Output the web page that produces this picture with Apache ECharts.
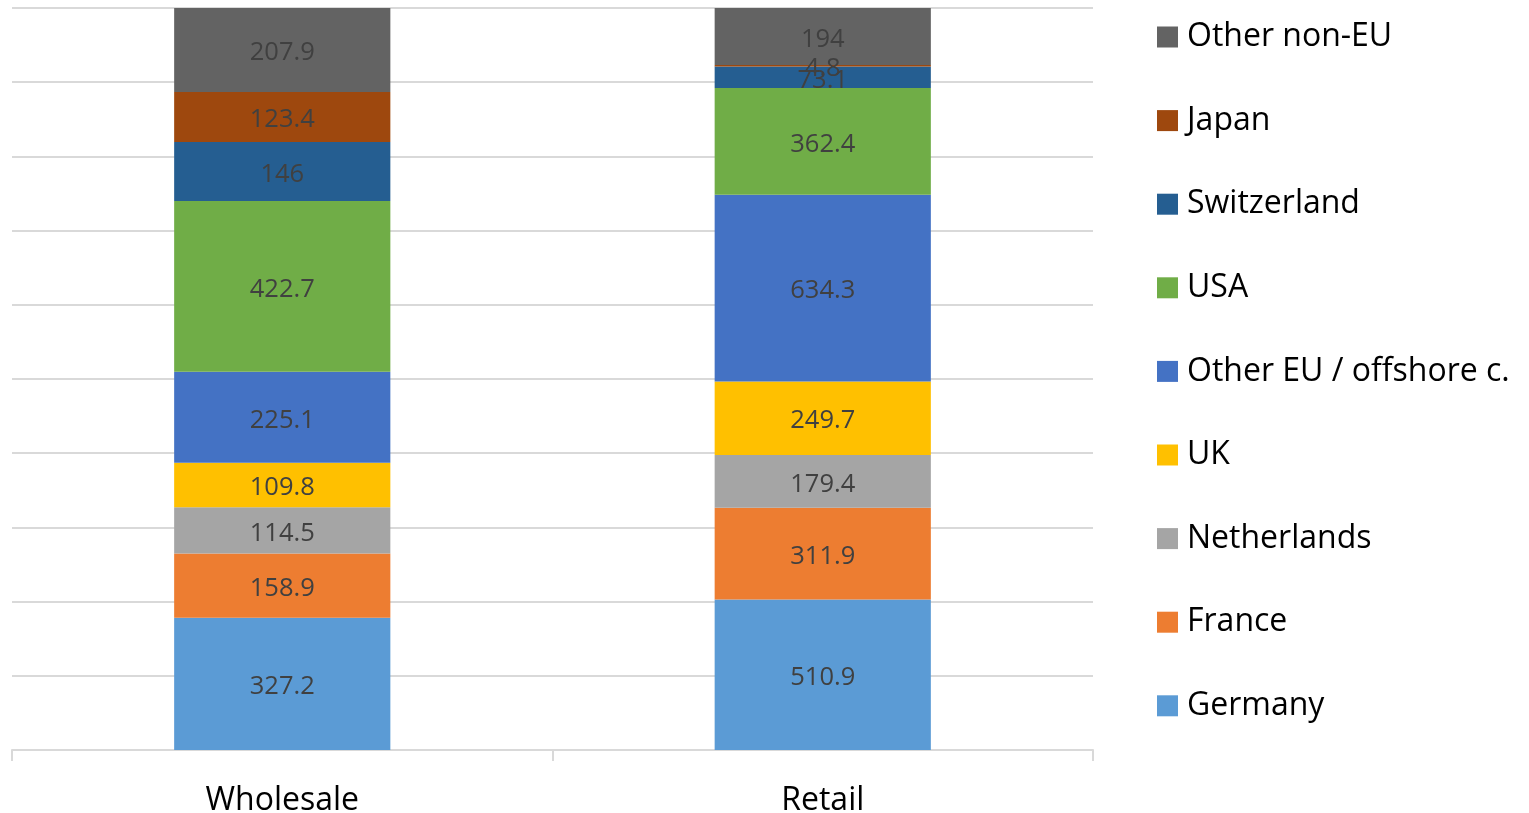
<!DOCTYPE html>
<html>
<head>
<meta charset="utf-8">
<script src="https://cdn.jsdelivr.net/npm/echarts@6/dist/echarts.min.js"></script>
<style>
  html, body { margin: 0; padding: 0; background: #fff; }
  #chart { width: 1529px; height: 813px; }
</style>
</head>
<body>
<div id="chart"></div>
<script>
// Channel categories along the x axis
const categories = ['Wholesale', 'Retail'];

// Values per origin, [Wholesale, Retail]
const germany      = [327.2, 510.9];
const france       = [158.9, 311.9];
const netherlands  = [114.5, 179.4];
const uk           = [109.8, 249.7];
const otherEU      = [225.1, 634.3];
const usa          = [422.7, 362.4];
const switzerland  = [146.0, 73.1];
const japan        = [123.4, 4.8];
const otherNonEU   = [207.9, 194.0];

const seriesNames = ['Germany', 'France', 'Netherlands', 'UK', 'Other EU / offshore c.',
                     'USA', 'Switzerland', 'Japan', 'Other non-EU'];
const seriesValues = [germany, france, netherlands, uk, otherEU, usa, switzerland, japan, otherNonEU];
const seriesColors = ['#5B9BD5', '#ED7D31', '#A5A5A5', '#FFC000', '#4472C4',
                      '#70AD47', '#255E91', '#9E480E', '#636363'];

// Column totals, used to draw each stack as 100 %
const totals = categories.map((_, i) => seriesValues.reduce((s, arr) => s + arr[i], 0));

const FONT = '"Open Sans", "Noto Sans", sans-serif';

const series = seriesNames.map((name, k) => ({
  name: name,
  type: 'bar',
  stack: 'share',
  barWidth: '40%',
  itemStyle: { color: seriesColors[k] },
  data: seriesValues[k].map((v, i) => v / totals[i] * 100),
  label: {
    show: true,
    position: 'inside',
    offset: [0, 3],
    color: '#404040',
    fontFamily: FONT,
    fontSize: 25.5,
    formatter: (p) => String(seriesValues[k][p.dataIndex])
  },
  emphasis: { disabled: true }
}));

const chart = echarts.init(document.getElementById('chart'), null, { renderer: 'canvas' });
chart.setOption({
  animation: false,
  backgroundColor: '#ffffff',
  grid: { left: 12, right: 436, top: 8, bottom: 63, containLabel: false, outerBoundsMode: 'none' },
  xAxis: {
    type: 'category',
    data: categories,
    axisLine: { show: true, lineStyle: { color: '#d9d9d9', width: 2 } },
    axisTick: { show: true, alignWithLabel: false, length: 11, lineStyle: { color: '#d9d9d9', width: 2 } },
    axisLabel: { color: '#000000', fontFamily: FONT, fontSize: 32, margin: 35 }
  },
  yAxis: {
    type: 'value',
    min: 0,
    max: 100,
    interval: 10,
    axisLine: { show: false },
    axisTick: { show: false },
    axisLabel: { show: false },
    splitLine: { show: true, lineStyle: { color: '#d9d9d9', width: 2 } }
  },
  legend: {
    orient: 'vertical',
    left: 1157,
    top: 21,
    padding: 0,
    icon: 'rect',
    itemWidth: 21,
    itemHeight: 21,
    itemGap: 51.6,
    data: seriesNames.slice().reverse(),
    textStyle: { color: '#000000', fontFamily: FONT, fontSize: 32, lineHeight: 32, padding: [0, 0, 0, 4] }
  },
  series: series
});
</script>
</body>
</html>
